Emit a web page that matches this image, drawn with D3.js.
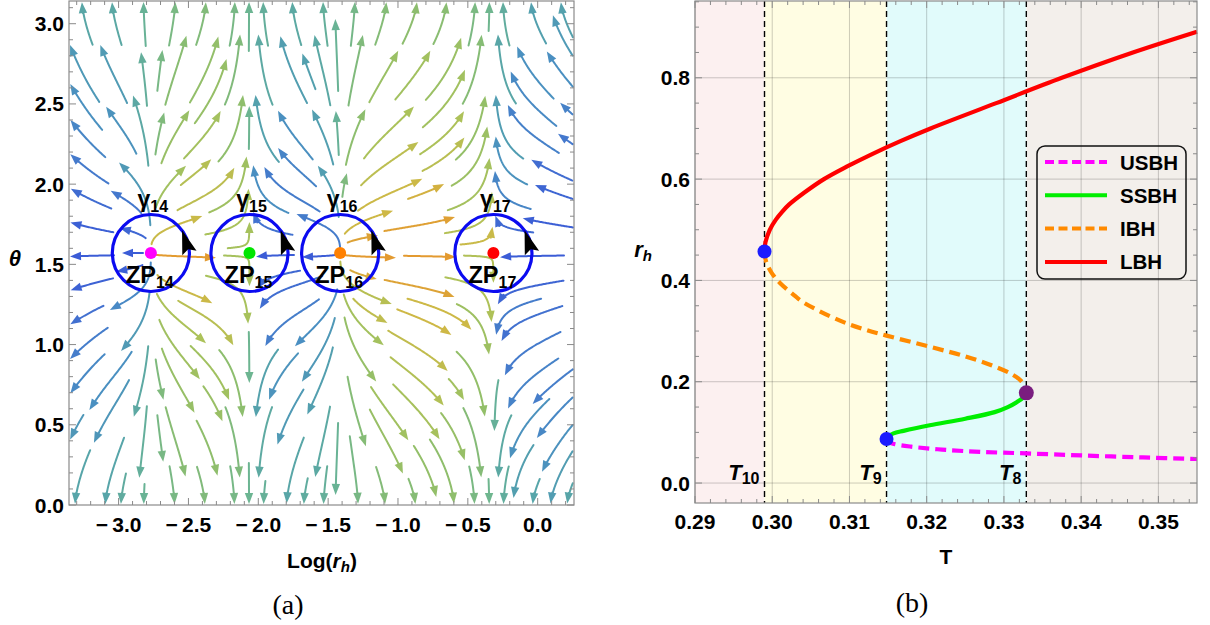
<!DOCTYPE html>
<html><head><meta charset="utf-8">
<script src="https://cdnjs.cloudflare.com/ajax/libs/d3/7.8.5/d3.min.js"></script>
<style>
 html,body{margin:0;padding:0;background:#fff;}
 svg text{font-family:"Liberation Sans",Arial,Helvetica,sans-serif;font-weight:bold;fill:#000;}
</style></head><body>
<svg id="fig" width="1210" height="625"></svg>
<script>
// ---------------- panel (a): zero points of the vector field ----------------
const zpNames   = ["14", "15", "16", "17"];
const zpLogR    = [-2.769, -2.063, -1.414, -0.317];
const zpTheta   = [1.5708, 1.5708, 1.5708, 1.5708];
const zpColors  = ["#ff00ff", "#00e600", "#ff8000", "#ff0000"];
// sign of the radial component: left of ZP14, between neighbours, right of ZP17
const radialSign = [-1, 1, -1, 1, -1];
// strength of the radial component outside the outermost zero points (left, right)
const edgeStrength = [0.8, 1.2];
const aXTicks = [-3.0, -2.5, -2.0, -1.5, -1.0, -0.5, 0.0];
const aYTicks = [0.0, 0.5, 1.0, 1.5, 2.0, 2.5, 3.0];

// ---------------- panel (b): r_h versus T ----------------
const bXTicks = [0.29, 0.30, 0.31, 0.32, 0.33, 0.34, 0.35];
const bYTicks = [0.0, 0.2, 0.4, 0.6, 0.8];
const transT     = [0.2990, 0.3148, 0.3329];
const transNames = ["10", "9", "8"];
const critR      = [0.457, 0.087, 0.178];
const critColors = ["#1c1cff", "#1c1cff", "#7a1d7f"];
const regionColors = ["#fcf0f0", "#fffde3", "#e1fbfb", "#f3efeb"];

const lbhT = [0.2990, 0.29912, 0.29968, 0.30047, 0.30125, 0.3022, 0.3043, 0.3067, 0.3097, 0.3130, 0.3166, 0.3205, 0.3290, 0.3375, 0.3467, 0.3550];
const lbhR = [0.457, 0.475, 0.500, 0.520, 0.535, 0.550, 0.575, 0.600, 0.625, 0.650, 0.675, 0.700, 0.750, 0.800, 0.850, 0.891];
const ibhT = [0.2990, 0.29908, 0.29938, 0.30001, 0.30100, 0.3029, 0.3040, 0.3087, 0.3120, 0.3148, 0.3204, 0.3250, 0.3285, 0.3310, 0.3322, 0.3327, 0.3329];
const ibhR = [0.457, 0.445, 0.430, 0.413, 0.395, 0.370, 0.357, 0.321, 0.303, 0.291, 0.269, 0.250, 0.232, 0.215, 0.202, 0.191, 0.178];
const ssbhT = [0.3148, 0.3151, 0.3157, 0.3170, 0.3204, 0.3250, 0.3288, 0.3305, 0.3317, 0.3325, 0.3329];
const ssbhR = [0.087, 0.093, 0.098, 0.103, 0.114, 0.127, 0.140, 0.150, 0.160, 0.169, 0.178];
const usbhT = [0.3148, 0.3151, 0.3158, 0.3180, 0.3220, 0.3270, 0.3329, 0.3400, 0.3480, 0.3550];
const usbhR = [0.087, 0.081, 0.077, 0.0718, 0.066, 0.0615, 0.0585, 0.0545, 0.0505, 0.0475];

const branchNames  = ["USBH", "SSBH", "IBH", "LBH"];
const branchColors = ["#ff00ff", "#00ee00", "#ff8a00", "#ff0000"];
const branchDash   = ["11,6", null, "11,6", null];

const svg = d3.select("#fig");
const FRAME = "#8a8a8a";
const TICK_FONT = 21;

function sub(textSel, main, subTxt, mainStyle, subStyle, size, subSize, shift) {
  const a = textSel.append("tspan").text(main).attr("font-size", size);
  if (mainStyle) a.attr("font-style", mainStyle);
  const b = textSel.append("tspan").text(subTxt).attr("font-size", subSize).attr("dy", shift);
  if (subStyle) b.attr("font-style", subStyle);
  return textSel;
}

// frame with inward ticks on all four sides
function drawFrame(g, xs, ys, xMaj, xMin, yMaj, yMin, xFmt, yFmt, xLabY, yLabX) {
  const [L, R] = xs.range(), [B, T] = ys.range();
  const tk = g.append("g").attr("stroke", FRAME).attr("stroke-width", 1);
  const seg = (x1, y1, x2, y2) => tk.append("line").attr("x1", x1).attr("y1", y1).attr("x2", x2).attr("y2", y2);
  xMaj.forEach(v => { const x = xs(v); seg(x, B, x, B - 7); seg(x, T, x, T + 7); });
  xMin.forEach(v => { const x = xs(v); seg(x, B, x, B - 4); seg(x, T, x, T + 4); });
  yMaj.forEach(v => { const y = ys(v); seg(L, y, L + 7, y); seg(R, y, R - 7, y); });
  yMin.forEach(v => { const y = ys(v); seg(L, y, L + 4, y); seg(R, y, R - 4, y); });
  g.append("rect").attr("x", L).attr("y", T).attr("width", R - L).attr("height", B - T)
    .attr("fill", "none").attr("stroke", FRAME).attr("stroke-width", 1.2);
  g.append("g").selectAll("text").data(xMaj).join("text")
    .attr("x", d => xs(d)).attr("y", xLabY).attr("text-anchor", "middle")
    .attr("font-size", TICK_FONT).text(xFmt);
  g.append("g").selectAll("text").data(yMaj).join("text")
    .attr("x", yLabX).attr("y", d => ys(d) + 7.5).attr("text-anchor", "end")
    .attr("font-size", TICK_FONT).text(yFmt);
}
function minorTicks(lo, hi, step, majors) {
  const out = [];
  for (let i = Math.ceil(lo / step - 1e-9); i * step <= hi + 1e-9; i++) {
    const v = +(i * step).toFixed(6);
    if (!majors.some(m => Math.abs(m - v) < step / 10)) out.push(v);
  }
  return out;
}

// ======================= panel (a) =======================
const xA = d3.scaleLinear().domain([-3.355, 0.26]).range([69, 574]);
const yA = d3.scaleLinear().domain([0, Math.PI]).range([505, 1]);
const gA = svg.append("g");
gA.append("defs").append("clipPath").attr("id", "clipA").append("rect")
  .attr("x", 69).attr("y", 1).attr("width", 505).attr("height", 504);

const kx = xA(1) - xA(0), ky = yA(0) - yA(1);
const GAIN = 1.03, EDGE = 0.35;
// radial component as a function of Log(r_h); it vanishes at each zero point
function radial(x) {
  const z = zpLogR, n = z.length;
  if (x <= z[0]) return radialSign[0] * edgeStrength[0] * Math.sin(Math.PI / 2 * Math.min(1, (z[0] - x) / EDGE));
  if (x >= z[n - 1]) return radialSign[n] * edgeStrength[1] * Math.sin(Math.PI / 2 * Math.min(1, (x - z[n - 1]) / EDGE));
  for (let k = 0; k < n - 1; k++) {
    if (x <= z[k + 1]) {
      const Lk = z[k + 1] - z[k];
      return radialSign[k + 1] * GAIN * Lk * Math.sin(Math.PI * (x - z[k]) / Lk);
    }
  }
  return 0;
}
// angular component: pushes away from theta = pi/2, vertical near the poles
function angular(th) { return -Math.cos(th) / Math.sqrt(Math.sin(th)); }
function dirAt(px, py) {
  const x = xA.invert(px);
  const th = Math.min(Math.PI - 1e-3, Math.max(1e-3, yA.invert(py)));
  const a = radial(x) * kx, b = -angular(th) * ky;
  const m = Math.hypot(a, b);
  if (m < 1e-6) return null;
  return [a / m, b / m];
}

// evenly spaced streamlines
const CELL = 6, DSEP = 15, DTEST = 7.5, FWD = 42, BWD = 30;
const occ = new Map();
const keyOf = (i, j) => i * 10000 + j;
function addPt(p) {
  const k = keyOf(Math.floor(p[0] / CELL), Math.floor(p[1] / CELL));
  if (!occ.has(k)) occ.set(k, []);
  occ.get(k).push(p);
}
function crowded(px, py, d) {
  const r = Math.ceil(d / CELL), ci = Math.floor(px / CELL), cj = Math.floor(py / CELL);
  for (let i = ci - r; i <= ci + r; i++) for (let j = cj - r; j <= cj + r; j++) {
    const a = occ.get(keyOf(i, j)); if (!a) continue;
    for (const p of a) { const dx = p[0] - px, dy = p[1] - py; if (dx * dx + dy * dy < d * d) return true; }
  }
  return false;
}
const [XL, XR] = xA.range(), YT = 1, YB = 505;
function trace(sx, sy, sgn, maxLen) {
  const pts = []; let px = sx, py = sy, len = 0, prev = null;
  while (len < maxLen) {
    const d1 = dirAt(px, py); if (!d1) break;
    const d2 = dirAt(px + sgn * d1[0] * 0.5, py + sgn * d1[1] * 0.5); if (!d2) break;
    if (prev && prev[0] * d2[0] + prev[1] * d2[1] < 0.5) break;
    const nx = px + sgn * d2[0], ny = py + sgn * d2[1];
    if (nx < XL + 1 || nx > XR - 1 || ny < YT + 1 || ny > YB - 1) break;
    if (crowded(nx, ny, DTEST)) break;
    px = nx; py = ny; len += 1; prev = d2; pts.push([px, py]);
  }
  return pts;
}
const lines = [];
function seedPass(step, off, minLen) {
  for (let sy = YT + off; sy < YB; sy += step) {
    for (let sx = XL + off; sx < XR; sx += step) {
      if (crowded(sx, sy, DSEP)) continue;
      if (!dirAt(sx, sy)) continue;
      const f = trace(sx, sy, 1, FWD), b = trace(sx, sy, -1, BWD);
      const pts = b.reverse().concat([[sx, sy]], f);
      if (pts.length < minLen) continue;
      pts.forEach(addPt);
      lines.push(pts);
    }
  }
}
seedPass(30, 15, 20); seedPass(15, 7, 16); seedPass(8, 4, 14);

const flowColor = d3.scaleLinear()
  .domain([-1, -0.85, -0.6, -0.3, 0, 0.35, 0.7, 0.9, 1])
  .range(["#3b5cd6", "#4374cf", "#4a8fc2", "#55a3ab", "#6cb592", "#8fbe6c", "#abc25a", "#cdb947", "#e39a30"]);

const streams = gA.append("g").attr("clip-path", "url(#clipA)");
const lineGen = d3.line();
lines.forEach(pts => {
  const s = pts[0], e = pts[pts.length - 1];
  const cx = e[0] - s[0], cy = e[1] - s[1], cm = Math.hypot(cx, cy) || 1;
  const col = flowColor(cx / cm);
  const q = pts[Math.max(0, pts.length - 5)];
  let dx = e[0] - q[0], dy = e[1] - q[1]; const dm = Math.hypot(dx, dy) || 1; dx /= dm; dy /= dm;
  const AL = 11, AW = 4.2;
  const base = [e[0] - dx * AL, e[1] - dy * AL];
  const body = pts.slice(0, Math.max(1, pts.length - AL)).concat([base]);
  streams.append("path").attr("d", lineGen(body)).attr("fill", "none")
    .attr("stroke", col).attr("stroke-width", 2).attr("stroke-linecap", "round");
  streams.append("path")
    .attr("d", `M${e[0]},${e[1]}L${base[0] - dy * AW},${base[1] + dx * AW}L${base[0] + dy * AW},${base[1] - dx * AW}Z`)
    .attr("fill", col);
});

// contours around each zero point
const RX = 0.276, RY = 0.24;
zpLogR.forEach((lr, i) => {
  const cx = xA(lr), cy = yA(zpTheta[i]);
  const rx = xA(lr + RX) - cx, ry = cy - yA(zpTheta[i] + RY);
  gA.append("ellipse").attr("cx", cx).attr("cy", cy).attr("rx", rx).attr("ry", ry)
    .attr("fill", "none").attr("stroke", "#0b0bf0").attr("stroke-width", 3.2);
  // counter-clockwise orientation arrowhead
  const a0 = 0, a1 = 36 * Math.PI / 180;
  const B = [cx + rx * Math.cos(a0), cy - ry * Math.sin(a0)];
  const Tp = [cx + rx * Math.cos(a1), cy - ry * Math.sin(a1)];
  let ux = Tp[0] - B[0], uy = Tp[1] - B[1]; const um = Math.hypot(ux, uy); ux /= um; uy /= um;
  const hw = 7.5;
  const N = [B[0] + ux * 4, B[1] + uy * 4];
  gA.append("path")
    .attr("d", `M${Tp[0]},${Tp[1]}L${B[0] - uy * hw},${B[1] + ux * hw}L${N[0]},${N[1]}L${B[0] + uy * hw},${B[1] - ux * hw}Z`)
    .attr("fill", "#000");
  gA.append("circle").attr("cx", cx).attr("cy", cy).attr("r", 6).attr("fill", zpColors[i]);
  sub(gA.append("text").attr("x", cx + 2).attr("y", cy - 46).attr("text-anchor", "middle"),
      "γ", zpNames[i], null, null, 23, 16, 5);
  sub(gA.append("text").attr("x", cx - 1).attr("y", cy + 30).attr("text-anchor", "middle"),
      "ZP", zpNames[i], null, null, 23.5, 16, 5);
});

const fmtA = v => (v < 0 ? "\u2212\u2009" : "") + d3.format(".1f")(Math.abs(v));
drawFrame(gA, xA, yA, aXTicks, minorTicks(-3.3, 0.2, 0.1, aXTicks), aYTicks, minorTicks(0, 3.1, 0.1, aYTicks),
  fmtA, d3.format(".1f"), 532, 64);

const axA = gA.append("text").attr("x", 322).attr("y", 568).attr("text-anchor", "middle").attr("font-size", 21);
axA.append("tspan").text("Log(");
axA.append("tspan").text("r").attr("font-style", "italic");
axA.append("tspan").text("h").attr("font-style", "italic").attr("font-size", 15).attr("dy", 4);
axA.append("tspan").text(")").attr("dy", -4);
gA.append("text").attr("x", 15).attr("y", 266).attr("text-anchor", "middle")
  .attr("font-size", 22).attr("font-style", "italic").text("θ");
gA.append("text").attr("x", 288).attr("y", 614).attr("text-anchor", "middle")
  .style("font-family", "'Liberation Serif','Times New Roman',serif").style("font-weight", "normal")
  .attr("font-size", 28).text("(a)");

// ======================= panel (b) =======================
const xB = d3.scaleLinear().domain([0.29, 0.355]).range([695, 1197]);
const yB = d3.scaleLinear().domain([-0.0394, 0.9516]).range([503, 1]);
const gB = svg.append("g");
const edges = [xB.domain()[0], ...transT, xB.domain()[1]];
gB.append("g").selectAll("rect").data(regionColors).join("rect")
  .attr("x", (d, i) => xB(edges[i])).attr("y", 1)
  .attr("width", (d, i) => xB(edges[i + 1]) - xB(edges[i])).attr("height", 502)
  .attr("fill", d => d);

const grid = gB.append("g").attr("stroke", "rgba(0,0,0,0.2)").attr("stroke-width", 1);
bXTicks.forEach(v => grid.append("line").attr("x1", xB(v)).attr("x2", xB(v)).attr("y1", 1).attr("y2", 503));
bYTicks.forEach(v => grid.append("line").attr("x1", 695).attr("x2", 1197).attr("y1", yB(v)).attr("y2", yB(v)));

gB.append("g").selectAll("line").data(transT).join("line")
  .attr("x1", d => xB(d)).attr("x2", d => xB(d)).attr("y1", 1).attr("y2", 503)
  .attr("stroke", "#000").attr("stroke-width", 1.4).attr("stroke-dasharray", "6,4");

const curve = d3.line().x(d => xB(d[0])).y(d => yB(d[1])).curve(d3.curveCatmullRom.alpha(0.5));
const branches = [d3.zip(usbhT, usbhR), d3.zip(ssbhT, ssbhR), d3.zip(ibhT, ibhR), d3.zip(lbhT, lbhR)];
branches.forEach((pts, i) => {
  const p = gB.append("path").attr("d", curve(pts)).attr("fill", "none")
    .attr("stroke", branchColors[i]).attr("stroke-width", 4.2);
  if (branchDash[i]) p.attr("stroke-dasharray", branchDash[i]);
});
gB.append("g").selectAll("circle").data(transT).join("circle")
  .attr("cx", d => xB(d)).attr("cy", (d, i) => yB(critR[i]))
  .attr("r", (d, i) => i === 2 ? 7.5 : 7).attr("fill", (d, i) => critColors[i]);

drawFrame(gB, xB, yB, bXTicks, minorTicks(0.29, 0.355, 0.002, bXTicks), bYTicks, minorTicks(-0.03, 0.95, 0.05, bYTicks),
  d3.format(".2f"), d3.format(".1f"), 529, 690);

transT.forEach((t, i) => {
  const tx = gB.append("text").attr("x", xB(t) - 5).attr("y", 480).attr("text-anchor", "end");
  sub(tx, "T", transNames[i], "italic", null, 22, 16, 4);
});

// legend
const lg = gB.append("g");
lg.append("rect").attr("x", 1037).attr("y", 146).attr("width", 149).attr("height", 133)
  .attr("rx", 8).attr("fill", "none").attr("stroke", "#111").attr("stroke-width", 1.5);
branchNames.forEach((nm, i) => {
  const y = 162 + i * 33.3;
  const l = lg.append("line").attr("x1", 1045).attr("x2", 1107).attr("y1", y).attr("y2", y)
    .attr("stroke", branchColors[i]).attr("stroke-width", 4);
  if (branchDash[i]) l.attr("stroke-dasharray", "9,4.5");
  lg.append("text").attr("x", 1120).attr("y", y + 7.5).attr("font-size", 20.5).text(nm);
});

gB.append("text").attr("x", 946).attr("y", 564).attr("text-anchor", "middle").attr("font-size", 21).text("T");
const rl = gB.append("text").attr("x", 643).attr("y", 257).attr("text-anchor", "middle");
sub(rl, "r", "h", "italic", "italic", 22, 15, 4);
gB.append("text").attr("x", 912).attr("y", 612).attr("text-anchor", "middle")
  .style("font-family", "'Liberation Serif','Times New Roman',serif").style("font-weight", "normal")
  .attr("font-size", 28).text("(b)");
</script></body></html>
